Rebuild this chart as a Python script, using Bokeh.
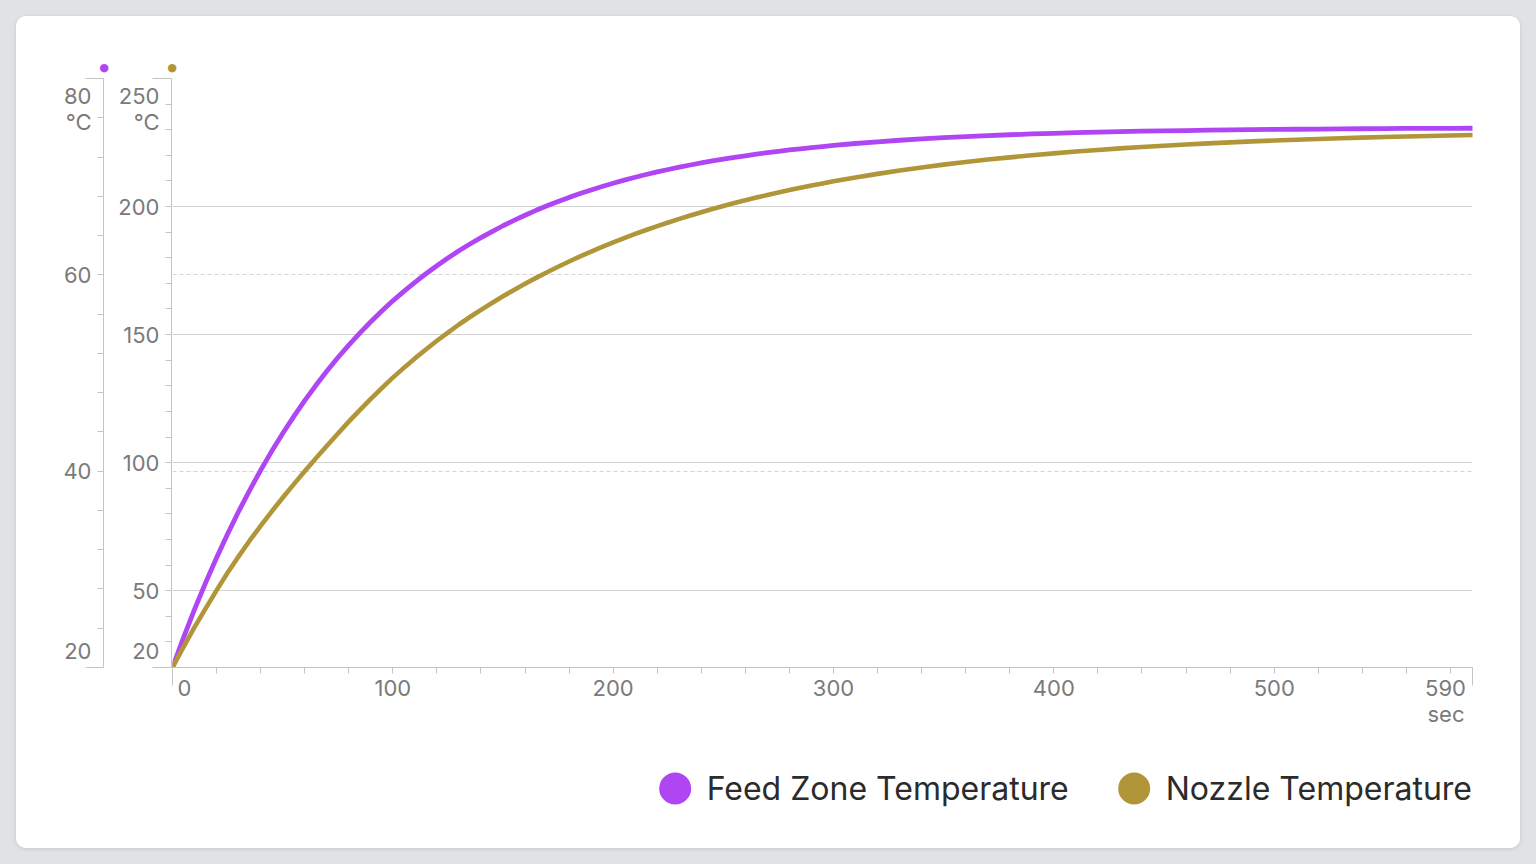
from bokeh.plotting import figure
from bokeh.models import (Range1d, LinearAxis, FixedTicker, Grid, Title,
                          Legend, LegendItem, ColumnDataSource)
from bokeh.layouts import column
from bokeh.embed import file_html
from bokeh.resources import INLINE

# ---------------- data ----------------
time_s = [0, 5, 10, 15, 20, 25, 30, 35, 40, 45, 50, 55, 60, 65, 70, 75, 80, 85, 90, 95,
          100, 105, 110, 115, 120, 125, 130, 135, 140, 145, 150, 155, 160, 165, 170, 175,
          180, 185, 190, 195, 200, 205, 210, 215, 220, 225, 230, 235, 240, 245, 250, 255,
          260, 265, 270, 275, 280, 285, 290, 295, 300,
          310, 320, 330, 340, 350, 360, 370, 380, 390, 400, 410, 420, 430, 440, 450,
          460, 470, 480, 490, 500, 510, 520, 530, 540, 550, 560, 570, 580, 590]

feed_zone_c = [20.00, 23.04, 25.91, 28.62, 31.18, 33.60, 35.89, 38.05, 40.09, 42.02,
               43.84, 45.56, 47.19, 48.72, 50.17, 51.55, 52.84, 54.06, 55.22, 56.31,
               57.35, 58.32, 59.24, 60.11, 60.93, 61.71, 62.45, 63.14, 63.79, 64.41,
               65.00, 65.55, 66.07, 66.57, 67.03, 67.47, 67.89, 68.28, 68.65, 69.00,
               69.33, 69.65, 69.94, 70.22, 70.49, 70.73, 70.97, 71.19, 71.40, 71.60,
               71.79, 71.97, 72.13, 72.29, 72.44, 72.58, 72.72, 72.84, 72.96, 73.07,
               73.18,
               73.38, 73.55, 73.71, 73.85, 73.97, 74.08, 74.18, 74.27, 74.35, 74.42,
               74.48, 74.53, 74.58, 74.63, 74.67, 74.70, 74.74, 74.76, 74.79, 74.81,
               74.83, 74.85, 74.87, 74.88, 74.89, 74.91, 74.92, 74.92, 74.93]

nozzle_c = [20.00, 28.05, 35.78, 43.00, 50.10, 57.00, 63.40, 69.50, 75.30, 80.90,
            86.30, 91.50, 96.60, 101.60, 106.50, 111.30, 116.00, 120.50, 124.90, 129.10,
            133.20, 137.00, 140.70, 144.20, 147.60, 150.80, 153.94, 156.86, 159.66, 162.35,
            164.94, 167.44, 169.83, 172.14, 174.36, 176.49, 178.54, 180.51, 182.41, 184.23,
            185.98, 187.67, 189.29, 190.85, 192.35, 193.79, 195.18, 196.51, 197.80, 199.03,
            200.22, 201.36, 202.45, 203.51, 204.52, 205.50, 206.44, 207.34, 208.21, 209.04,
            209.85,
            211.36, 212.76, 214.06, 215.26, 216.36, 217.39, 218.34, 219.21, 220.02, 220.77,
            221.47, 222.11, 222.70, 223.25, 223.76, 224.23, 224.66, 225.06, 225.43, 225.78,
            226.09, 226.39, 226.66, 226.91, 227.14, 227.36, 227.55, 227.74, 227.91]

series_names = ["Feed Zone Temperature", "Nozzle Temperature"]

x_ticks = [0, 100, 200, 300, 400, 500, 590]
x_minor = list(range(20, 590, 20))
nozzle_ticks = [20, 50, 100, 150, 200, 250]
nozzle_minor = list(range(30, 250, 10))
nozzle_grid = [50, 100, 150, 200, 250]
feed_ticks = [20, 40, 60, 80]
feed_minor = list(range(24, 80, 4))
feed_grid = [40, 60]
x_range = (0, 590)
nozzle_range = (20, 250)
feed_range = (20, 80)
unit_temp = "°C"
unit_time = "sec"

# ---------------- layout / style constants ----------------
FONT = "Inter"
PURPLE = "#b045f3"
GOLD = "#b09638"
AXIS = "#c4c4c4"
GRID = "#d3d3d3"
TICK_TXT = "#7a7a7a"
LEG_TXT = "#2b2b2b"
FS = "22px"
FRAME_W, FRAME_H = 1300, 589
END_LABEL_SHIFT_Y = (30.3, 16.0)   # px: top label block pushed down, bottom label pushed up
END_LABEL_SHIFT_X = (12.0, 27.0)   # px: first label pushed right, last label pushed left

p = figure(width=1504, height=719, output_backend="svg", toolbar_location=None,
           x_range=Range1d(*x_range), y_range=Range1d(*nozzle_range),
           min_border_left=156, min_border_right=48, min_border_top=62,
           min_border_bottom=68, outline_line_color=None,
           background_fill_color="white", border_fill_color="white")
p.extra_y_ranges = {"feed": Range1d(*feed_range)}


def tick_axis(ax, ticks, minor, long_out):
    """axis that draws the line and the ticks (long ones at both ends)"""
    ax.ticker = FixedTicker(ticks=ticks, minor_ticks=minor)
    ax.axis_line_color = AXIS
    ax.major_tick_line_color = AXIS
    ax.minor_tick_line_color = AXIS
    ax.major_tick_in = 0
    ax.major_tick_out = long_out
    ax.minor_tick_in = 0
    ax.minor_tick_out = 6
    ax.major_label_overrides = {t: "" for t in ticks}
    ax.major_label_text_font_size = "1px"
    ax.major_label_text_color = None
    ax.major_label_standoff = 0


def label_axis(ax, ticks, labels, standoff):
    """axis that only draws the tick labels"""
    ax.ticker = FixedTicker(ticks=ticks, minor_ticks=[])
    ax.axis_line_color = None
    ax.major_tick_line_color = None
    ax.minor_tick_line_color = None
    ax.major_tick_in = 0
    ax.major_tick_out = 0
    ax.minor_tick_in = 0
    ax.minor_tick_out = 0
    ax.major_label_text_font = FONT
    ax.major_label_text_font_size = FS
    ax.major_label_text_color = TICK_TXT
    ax.major_label_text_line_height = 1.0
    ax.major_label_standoff = standoff
    ax.major_label_overrides = dict(zip(ticks, labels))


def y_label_positions(ticks, rng):
    per_px = (rng[1] - rng[0]) / FRAME_H
    pos = list(ticks)
    pos[0] = round(ticks[0] + END_LABEL_SHIFT_Y[1] * per_px, 3)
    pos[-1] = round(ticks[-1] - END_LABEL_SHIFT_Y[0] * per_px, 3)
    return pos


def y_labels(ticks):
    labs = [str(t) for t in ticks]
    labs[-1] = labs[-1] + "\n" + unit_temp
    return labs


# x axis: ticks + labels
xt = p.xaxis[0]
tick_axis(xt, [x_ticks[0], x_ticks[-1]], x_minor, 18)
x_per_px = (x_range[1] - x_range[0]) / FRAME_W
x_pos = list(x_ticks)
x_pos[0] = round(x_ticks[0] + END_LABEL_SHIFT_X[0] * x_per_px, 3)
x_pos[-1] = round(x_ticks[-1] - END_LABEL_SHIFT_X[1] * x_per_px, 3)
xl = LinearAxis()
label_axis(xl, x_pos, [str(t) for t in x_ticks], -6)
sec_title = Title(text=unit_time, align="right", vertical_align="middle", offset=8,
                  standoff=2, text_font=FONT, text_font_size=FS,
                  text_font_style="normal", text_color=TICK_TXT)
p.below = [xt, xl, sec_title]

# nozzle axis (inner)
nt = p.yaxis[0]
tick_axis(nt, [nozzle_ticks[0], nozzle_ticks[-1]], nozzle_minor, 19)
nl = LinearAxis()
label_axis(nl, y_label_positions(nozzle_ticks, nozzle_range), y_labels(nozzle_ticks), -7)
nl.axis_label = " "
nl.axis_label_text_font_size = "1px"
nl.axis_label_text_color = None
nl.axis_label_standoff = 7

# feed zone axis (outer)
ft = LinearAxis(y_range_name="feed")
tick_axis(ft, [feed_ticks[0], feed_ticks[-1]], feed_minor, 18)
fl = LinearAxis(y_range_name="feed")
label_axis(fl, y_label_positions(feed_ticks, feed_range), y_labels(feed_ticks), -6)


def dot(color):
    return Title(text="●", align="right", vertical_align="top", offset=-15,
                 standoff=-14, text_font="DejaVu Sans", text_font_size="11px",
                 text_font_style="normal", text_color=color)


p.left = [dot(GOLD), nt, nl, dot(PURPLE), ft, fl]

# grids
p.xgrid.visible = False
p.ygrid[0].ticker = FixedTicker(ticks=nozzle_grid)
p.ygrid[0].grid_line_color = GRID
p.add_layout(Grid(dimension=1, ticker=FixedTicker(ticks=feed_grid), y_range_name="feed",
                  grid_line_color=GRID, grid_line_dash="4 3"))

# ---------------- series ----------------
src = ColumnDataSource(data=dict(t=time_s, feed=feed_zone_c, nozzle=nozzle_c))
p.line("t", "feed", source=src, y_range_name="feed", line_color=PURPLE, line_width=4.8,
       line_join="round", line_cap="round")
p.line("t", "nozzle", source=src, line_color=GOLD, line_width=4.6,
       line_join="round", line_cap="round")

# ---------------- legend (own strip) ----------------
lg = figure(width=1504, height=113, output_backend="svg", toolbar_location=None,
            x_axis_type=None, y_axis_type=None, x_range=Range1d(*x_range),
            y_range=Range1d(*nozzle_range), min_border_left=0, min_border_right=48,
            min_border_top=21, min_border_bottom=0, outline_line_color=None,
            background_fill_color="white", border_fill_color="white")
lg.grid.visible = False
d1 = lg.scatter("t", "feed", source=src, marker="circle", fill_color=PURPLE,
                line_color=PURPLE, line_width=6.4, visible=False)
d2 = lg.scatter("t", "nozzle", source=src, marker="circle", fill_color=GOLD,
                line_color=GOLD, line_width=6.4, visible=False)
legend = Legend(items=[LegendItem(label=series_names[0], renderers=[d1]),
                       LegendItem(label=series_names[1], renderers=[d2])],
                orientation="horizontal", location="top_right",
                glyph_width=64, glyph_height=64, label_standoff=0, spacing=33,
                margin=0, padding=0, border_line_color=None, background_fill_alpha=0,
                inactive_fill_alpha=0,
                label_text_font=FONT, label_text_font_size="32px",
                label_text_color=LEG_TXT)
lg.add_layout(legend)

card = column(p, lg, spacing=0,
              styles={"background-color": "white", "border-radius": "10px",
                      "overflow": "hidden",
                      "box-shadow": "0 1px 4px rgba(0,0,0,0.12)"})
page = column(card, styles={"background-color": "#e1e2e4", "padding": "16px"})
open("out.html", "w").write(file_html(page, INLINE))
